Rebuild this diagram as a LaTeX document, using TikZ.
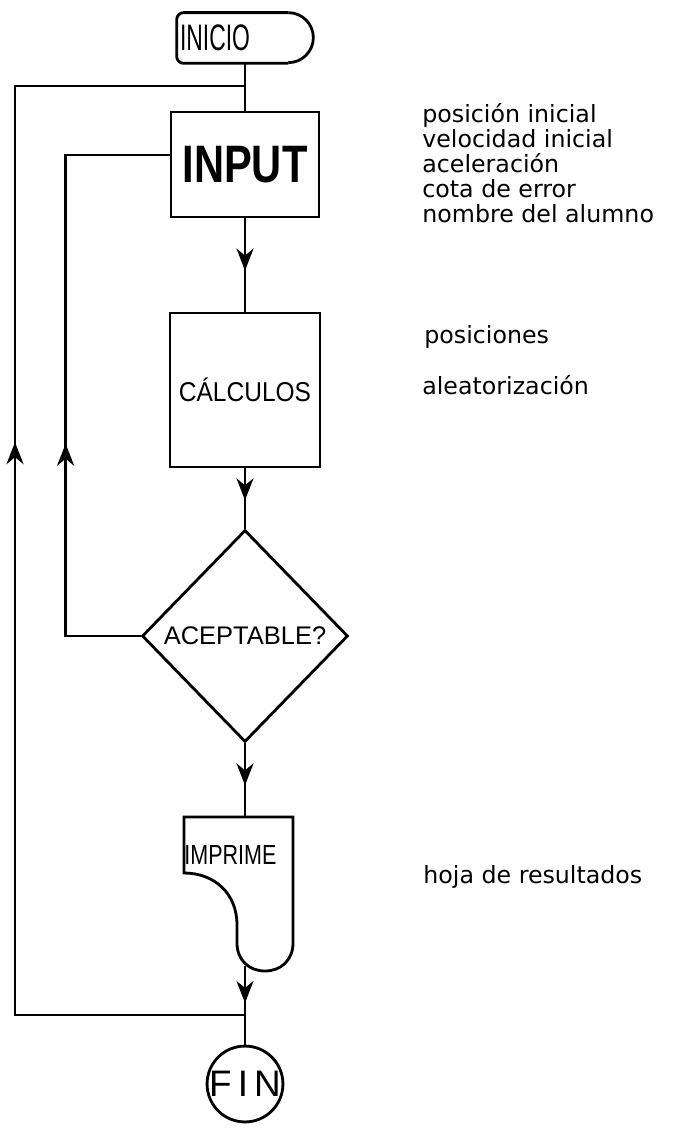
\documentclass[tikz,border=0pt]{standalone}
\usepackage{fontspec}
\usepackage{graphicx}
\setmainfont{Liberation Sans}
\newfontfamily\notefont{DejaVu Sans}
\usetikzlibrary{shapes.geometric, arrows.meta, positioning, decorations.markings}

\tikzset{
  link/.style={line width=1.6pt},
  flowbox/.style={draw, line width=1.6pt, inner sep=0pt},
  decision/.style={draw, diamond, line width=1.6pt, minimum width=4.12cm,
                   minimum height=4.24cm, inner sep=1pt},
  terminal/.style={draw, circle, line width=1.6pt, minimum size=1.48cm, inner sep=0pt},
  midarrow/.style={link, postaction={decorate},
                   decoration={markings, mark=at position #1 with
                   {\arrow{Stealth[length=0.44cm, width=0.34cm, inset=0.14cm]}}}},
  note/.style={anchor=west, inner sep=0pt, align=left,
               font=\notefont\fontsize{13.5}{14.3}\selectfont},
}

\begin{document}
\begin{tikzpicture}[x=0.02cm, y=-0.02cm]
\useasboundingbox (0,0) rectangle (685,1128);

% boxes
\node[text width=2.6cm, inner xsep=0.06cm, inner ysep=0pt, minimum height=1cm,
      align=left, font=\fontsize{21}{21}\selectfont] (inicio) at (245,38)
      {\scalebox{0.62}[1]{INICIO}};
\draw[link, rounded corners=4pt] ([xshift=-0.5cm]inicio.south east) -- (inicio.south west)
      -- (inicio.north west) -- ([xshift=-0.5cm]inicio.north east);
\draw[link] ([xshift=-0.5cm]inicio.north east) arc[start angle=90, end angle=-90, radius=0.5cm];

\node[flowbox, minimum width=2.96cm, minimum height=2.1cm,
      font=\bfseries\fontsize{30}{30}\selectfont] (input) at (245,164.5)
      {\scalebox{0.79}[1]{INPUT}};
\node[flowbox, minimum width=3cm, minimum height=3.08cm,
      font=\fontsize{15.5}{15.5}\selectfont] (calc) at (245,390)
      {\scalebox{0.9}[1]{CÁLCULOS}};
\node[decision, font=\fontsize{14.5}{14.5}\selectfont] (ok) at (245,636) {ACEPTABLE?};

% printed document
\draw[link] (184,817) -- (293,817) -- (293,943)
      .. controls (293,960) and (281,971) .. (265,971)
      .. controls (249,971) and (237,960) .. (237,943) -- (237,925)
      .. controls (237,893) and (214,873) .. (184,873) -- cycle;
\node[anchor=west, inner sep=0pt, font=\fontsize{15.7}{15.7}\selectfont] (imprime) at (184,855)
      {\scalebox{0.78}[1]{IMPRIME}};
\coordinate (imp top) at (245,817);
\coordinate (imp bot) at (245,966);

\node[terminal, font=\fontsize{21}{21}\selectfont] (fin) at (245,1084) {F\,I\,N};

% flow
\coordinate (top join) at (245,86);
\coordinate (back) at (245,1015);
\draw[link] (inicio) -- (input);
\draw[midarrow=0.56] (input) -- (calc);
\draw[midarrow=0.53] (calc) -- (ok);
\draw[midarrow=0.57] (ok) -- (imp top);
\draw[midarrow=0.47] (imp bot) -- (fin);

% loops back
\draw[midarrow=0.405] (ok.west) -- ++(-75,0) |- ([yshift=0.19cm]input.west);
\draw[midarrow=0.578] (back) -- ++(-230,0) |- (top join);

% notes
\node[note] (datos) at (422,163)
      {posición inicial\\velocidad inicial\\aceleración\\cota de error\\nombre del alumno};
\node[note] (pos) at (424,337) {posiciones};
\node[note] (alea) at (422,385) {aleatorización};
\node[note] (hoja) at (423,877) {hoja de resultados};
\end{tikzpicture}
\end{document}
